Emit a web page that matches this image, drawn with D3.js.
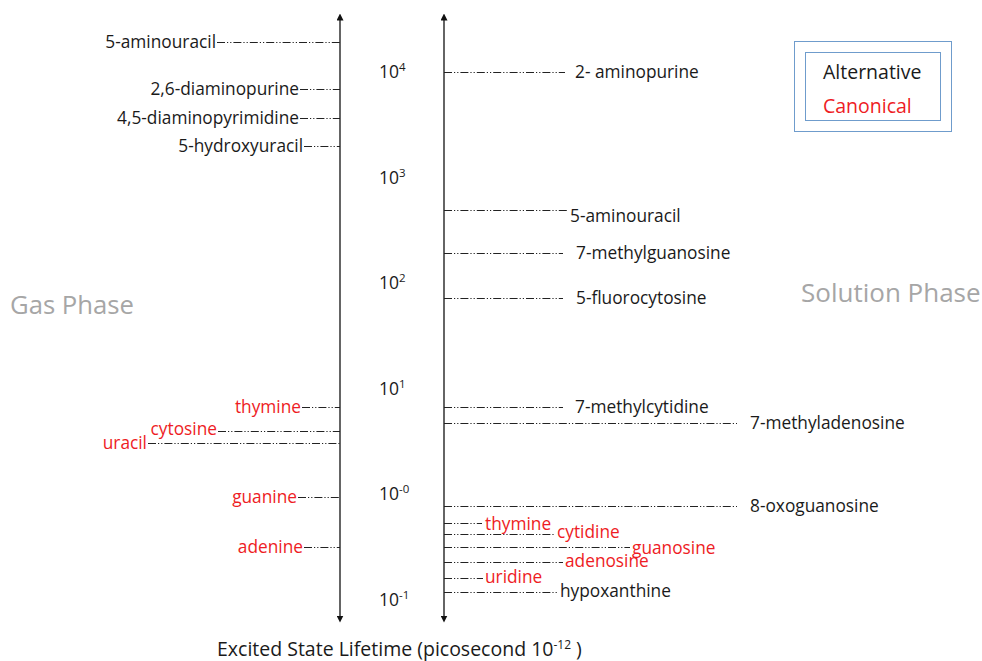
<!DOCTYPE html>
<html>
<head>
<meta charset="utf-8">
<script src="https://cdn.jsdelivr.net/npm/d3@7"></script>
<style>
  html, body { margin: 0; padding: 0; background: #fff; }
  svg { display: block; font-family: "Open Sans", Lato, sans-serif; }
</style>
</head>
<body>
<svg id="chart" width="982" height="661"></svg>
<script>
// ---------------- data ----------------
const gasNames = ["5-aminouracil", "2,6-diaminopurine", "4,5-diaminopyrimidine", "5-hydroxyuracil",
                  "thymine", "cytosine", "uracil", "guanine", "adenine"];
const gasValues = [19400, 6900, 3660, 1990, 6.7, 4.0, 3.1, 0.94, 0.32];
const gasCanonical = [false, false, false, false, true, true, true, true, true];

const solNames = ["2- aminopurine", "5-aminouracil", "7-methylguanosine", "5-fluorocytosine",
                  "7-methylcytidine", "7-methyladenosine", "8-oxoguanosine",
                  "thymine", "cytidine", "guanosine", "adenosine", "uridine", "hypoxanthine"];
const solValues = [10000, 489, 193, 72, 6.7, 4.7, 0.77, 0.54, 0.42, 0.32, 0.23, 0.16, 0.12];
const solCanonical = [false, false, false, false, false, false, false, true, true, true, true, true, false];

const tickValues = [1e4, 1e3, 1e2, 1e1, 1e0, 1e-1];
const tickExponents = ["4", "3", "2", "1", "-0", "-1"];

const legendItems = ["Alternative", "Canonical"];
const phaseLabels = ["Gas Phase", "Solution Phase"];
const axisTitle = "Excited State Lifetime (picosecond 10";
const axisTitleExp = "-12";

// ---------------- layout (not data) ----------------
const gasLeader = [123, 40, 40, 36, 38, 122, 192, 42, 36];          // leader length px
const gasTextDy = [0, 0, 0, 0, 0, -2, 0, 0, 0];
const solLeader = [121, 123, 119, 119, 119, 293, 293, 38, 111, 186, 119, 39, 114];
const solGap    = [10, 3, 13, 13, 12, 13, 13, 3, 2, 2, 2, 2, 2];
const solTextDy = [0, 6, 0, 0, 0, 0, 0, 1, -2, 1, -1, -1, -1];

const W = 982, H = 661;
const xLeft = 340, xRight = 444;
const RED = "#ee1c24", BLACK = "#1a1a1a";
const LABEL_SIZE = 17.3;

const svg = d3.select("#chart");

const y = d3.scaleLog().domain([0.1, 10000]).range([600, 72]);

// markers
const defs = svg.append("defs");
defs.append("marker").attr("id", "arrow").attr("viewBox", "0 0 10 10")
  .attr("refX", 5).attr("refY", 5).attr("markerWidth", 7).attr("markerHeight", 7)
  .attr("markerUnits", "userSpaceOnUse")
  .attr("orient", "auto-start-reverse")
  .append("path").attr("d", "M0,0 L10,5 L0,10 Z").attr("fill", "#111");

// axes lines with arrows
[xLeft, xRight].forEach(x => {
  svg.append("line")
    .attr("x1", x).attr("x2", x)
    .attr("y1", y(1e4) - 55).attr("y2", y(0.1) + 19)
    .attr("stroke", "#111").attr("stroke-width", 1.3)
    .attr("marker-start", "url(#arrow)").attr("marker-end", "url(#arrow)");
});

// tick labels
const ticks = svg.append("g").attr("font-size", 17.5).attr("fill", BLACK);
tickValues.forEach((v, i) => {
  const t = ticks.append("text").attr("x", 379).attr("y", y(v) + 6);
  t.append("tspan").text("10");
  t.append("tspan").attr("font-size", 11.5).attr("dy", -7).text(tickExponents[i]);
});

const dash = "8,2,1.2,2,1.2,2";

// gas phase leaders
const gas = svg.append("g");
gasNames.forEach((n, i) => {
  const yy = Math.round(y(gasValues[i])) + 0.5;
  gas.append("line").attr("x1", xLeft - gasLeader[i]).attr("x2", xLeft)
    .attr("y1", yy).attr("y2", yy)
    .attr("stroke", "#222").attr("stroke-width", 1).attr("stroke-dasharray", dash);
  gas.append("text").attr("x", xLeft - gasLeader[i] - 1).attr("y", yy + 5.5 + gasTextDy[i])
    .attr("text-anchor", "end").attr("font-size", LABEL_SIZE)
    .attr("fill", gasCanonical[i] ? RED : BLACK).text(n);
});

// solution phase leaders
const sol = svg.append("g");
solNames.forEach((n, i) => {
  const yy = Math.round(y(solValues[i])) + 0.5;
  sol.append("line").attr("x1", xRight).attr("x2", xRight + solLeader[i])
    .attr("y1", yy).attr("y2", yy)
    .attr("stroke", "#222").attr("stroke-width", 1).attr("stroke-dasharray", dash);
  sol.append("text").attr("x", xRight + solLeader[i] + solGap[i]).attr("y", yy + 5.5 + solTextDy[i])
    .attr("font-size", LABEL_SIZE)
    .attr("fill", solCanonical[i] ? RED : BLACK).text(n);
});

// phase labels
svg.append("text").attr("x", 10).attr("y", 314).attr("font-size", 25.7).attr("fill", "#a6a6a6").text(phaseLabels[0]);
svg.append("text").attr("x", 801).attr("y", 302).attr("font-size", 26).attr("fill", "#a6a6a6").text(phaseLabels[1]);

// legend
const leg = svg.append("g");
leg.append("rect").attr("x", 794.5).attr("y", 41.5).attr("width", 157).attr("height", 90)
  .attr("fill", "none").attr("stroke", "#6f9ccc").attr("stroke-width", 1);
leg.append("rect").attr("x", 805.5).attr("y", 52.5).attr("width", 135).attr("height", 68)
  .attr("fill", "none").attr("stroke", "#6f9ccc").attr("stroke-width", 1);
legendItems.forEach((t, i) => {
  leg.append("text").attr("x", 823).attr("y", 79 + i * 34).attr("font-size", 19.5)
    .attr("fill", i === 0 ? BLACK : RED).text(t);
});

// axis title
const title = svg.append("text").attr("x", 217).attr("y", 656).attr("font-size", 19.5).attr("fill", BLACK);
title.append("tspan").text(axisTitle);
title.append("tspan").attr("font-size", 12).attr("dy", -7).text(axisTitleExp);
title.append("tspan").attr("dy", 7).text(" )");
</script>
</body>
</html>
